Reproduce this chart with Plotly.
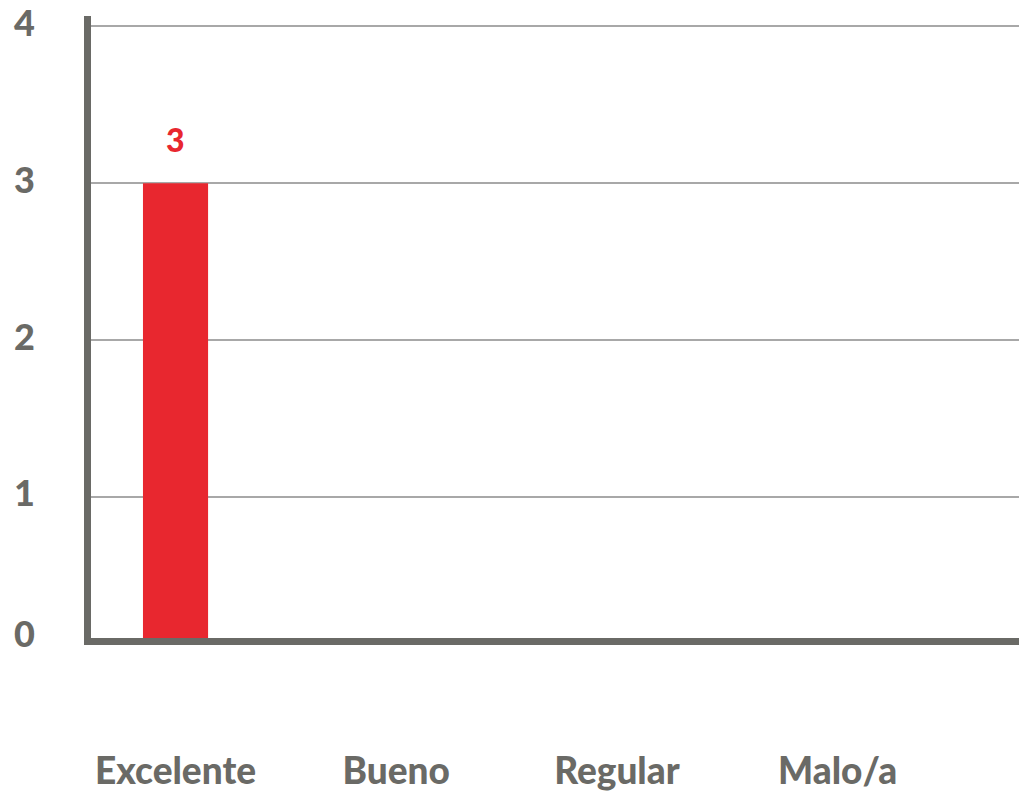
import plotly.graph_objects as go

categories = ["Excelente", "Bueno", "Regular", "Malo/a"]
values = [3, 0, 0, 0]
y_tick_vals = [0.1, 1, 2, 3, 4]
y_tick_text = ["0", "1", "2", "3", "4"]

RED = "#E8272F"
GRAY = "#6A6A66"
FONT = "Lato"

fig = go.Figure()
fig.add_trace(go.Bar(
    x=categories, y=values, width=0.295,
    marker=dict(color=RED, line=dict(width=0)),
    hoverinfo="skip",
))

for c, v in zip(categories, values):
    if v > 0:
        fig.add_annotation(
            x=c, y=v, text=str(v), showarrow=False,
            yanchor="bottom", yshift=22,
            font=dict(family=FONT, size=32, color=RED, weight=900),
        )

fig.update_layout(
    width=1019, height=795,
    margin=dict(l=91, r=0, t=14, b=157),
    paper_bgcolor="white", plot_bgcolor="white",
    showlegend=False,
    font=dict(family=FONT, color=GRAY),
    xaxis=dict(
        type="category", range=[-0.383, 3.822],
        showline=True, linecolor=GRAY, linewidth=7,
        showgrid=False, ticks="",
        ticklabelstandoff=95, ticklabeloverflow="allow",
        tickfont=dict(family=FONT, size=37, color=GRAY, weight=900),
    ),
    yaxis=dict(
        range=[0.0992, 4.066],
        tickvals=y_tick_vals, ticktext=y_tick_text,
        showline=True, linecolor=GRAY, linewidth=7,
        showgrid=True, gridcolor="#A8A8A8", gridwidth=2,
        zeroline=False, ticks="",
        ticklabelstandoff=42, ticklabelshift=-3, ticklabeloverflow="allow",
        tickfont=dict(family=FONT, size=36, color=GRAY, weight=900),
    ),
)

fig.write_html(
    "out.html",
    config={"displayModeBar": False},
    post_script="document.body.style.margin='0';document.body.style.overflow='hidden';",
)
